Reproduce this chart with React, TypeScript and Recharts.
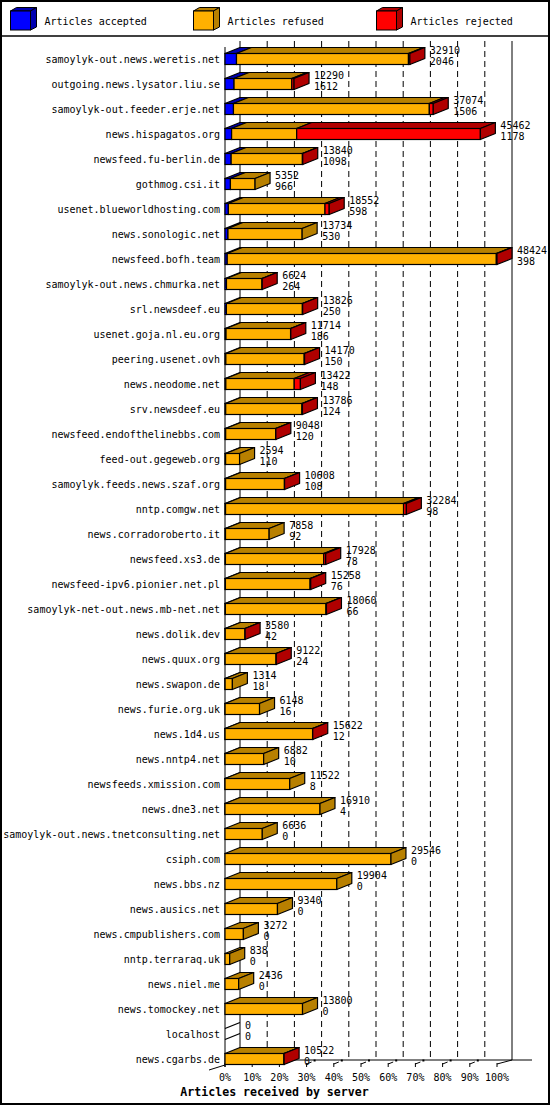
import React from 'react';
import { BarChart, Bar, XAxis, YAxis, CartesianGrid } from 'recharts';

const servers = [
  'samoylyk-out.news.weretis.net', 'outgoing.news.lysator.liu.se', 'samoylyk-out.feeder.erje.net',
  'news.hispagatos.org', 'newsfeed.fu-berlin.de', 'gothmog.csi.it', 'usenet.blueworldhosting.com',
  'news.sonologic.net', 'newsfeed.bofh.team', 'samoylyk-out.news.chmurka.net', 'srl.newsdeef.eu',
  'usenet.goja.nl.eu.org', 'peering.usenet.ovh', 'news.neodome.net', 'srv.newsdeef.eu',
  'newsfeed.endofthelinebbs.com', 'feed-out.gegeweb.org', 'samoylyk.feeds.news.szaf.org',
  'nntp.comgw.net', 'news.corradoroberto.it', 'newsfeed.xs3.de', 'newsfeed-ipv6.pionier.net.pl',
  'samoylyk-net-out.news.mb-net.net', 'news.dolik.dev', 'news.quux.org', 'news.swapon.de',
  'news.furie.org.uk', 'news.1d4.us', 'news.nntp4.net', 'newsfeeds.xmission.com', 'news.dne3.net',
  'samoylyk-out.news.tnetconsulting.net', 'csiph.com', 'news.bbs.nz', 'news.ausics.net',
  'news.cmpublishers.com', 'nntp.terraraq.uk', 'news.niel.me', 'news.tomockey.net', 'localhost',
  'news.cgarbs.de',
];

const totals = [
  32910, 12290, 37074, 45462, 13840, 5352, 18552, 13734, 48424, 6624, 13826, 11714, 14170, 13422,
  13786, 9048, 2594, 10608, 32284, 7858, 17928, 15258, 18060, 3580, 9122, 1314, 6148, 15622, 6882,
  11522, 16910, 6636, 29546, 19904, 9340, 3272, 838, 2436, 13800, 0, 10522,
];

const accepted = [
  2046, 1612, 1506, 1178, 1098, 966, 598, 530, 398, 264, 250, 186, 150, 148, 124, 120, 110, 108,
  98, 92, 78, 76, 66, 42, 24, 18, 16, 12, 10, 8, 4, 0, 0, 0, 0, 0, 0, 0, 0, 0, 0,
];

const refused = [
  30614, 10278, 34868, 11584, 12682, 4386, 17204, 13204, 47906, 6330, 13526, 11488, 13950, 12174,
  13572, 8908, 2484, 10470, 31686, 7766, 17500, 15072, 17914, 3528, 9078, 1296, 6132, 15580, 6872,
  11514, 16906, 6636, 29546, 19904, 9340, 3272, 838, 2436, 13800, 0, 10502,
];

const rejected = [
  250, 400, 700, 32700, 60, 0, 750, 0, 120, 30, 50, 40, 70, 1100, 90, 20, 0, 30, 500, 0, 350, 110,
  80, 10, 20, 0, 0, 30, 0, 0, 0, 0, 0, 0, 0, 0, 0, 0, 0, 0, 20,
];

const seriesNames = ['Articles accepted', 'Articles refused', 'Articles rejected'];
const pctTicks = [0, 10, 20, 30, 40, 50, 60, 70, 80, 90, 100];
const axisTitle = 'Articles received by server';

const maxTotal = Math.max(...totals);
const tickValues = pctTicks.map((p) => (p / 100) * maxTotal);

const data = servers.map((name, i) => ({
  name,
  total: totals[i],
  accepted: accepted[i],
  refused: refused[i],
  rejected: rejected[i],
}));

const DX = 15;
const DY = 6;
const FONT = '"DejaVu Sans Mono", "Liberation Mono", monospace';
const SW = 1.2;

const KEYS = ['accepted', 'refused', 'rejected'];
const COLORS: Record<string, { front: string; dark: string }> = {
  accepted: { front: '#0000ff', dark: '#0000b0' },
  refused: { front: '#ffb000', dark: '#b88000' },
  rejected: { front: '#ff0000', dark: '#b00000' },
};

function lastKey(p: any): string | null {
  for (let k = KEYS.length - 1; k >= 0; k--) if (p[KEYS[k]] > 0) return KEYS[k];
  return null;
}

function makeShape(key: string) {
  return (props: any) => {
    const { x, y, width, height, payload } = props;
    if (x == null || y == null || isNaN(x) || isNaN(y)) return <g />;
    const w = Math.max(0, width || 0);
    const h = height || 11;
    const c = COLORS[key];
    const els: React.ReactNode[] = [];
    if (payload.total === 0 && key === 'accepted') {
      els.push(
        <line key="d1" x1={x} y1={y} x2={x + DX} y2={y - DY} stroke="#000" strokeWidth={SW} />,
        <line key="d2" x1={x} y1={y + h} x2={x + DX} y2={y + h - DY} stroke="#000" strokeWidth={SW} />,
      );
    }
    if (w > 0) {
      els.push(
        <polygon
          key="top"
          points={`${x},${y} ${x + DX},${y - DY} ${x + w + DX},${y - DY} ${x + w},${y}`}
          fill={c.dark}
          stroke="#000"
          strokeWidth={SW}
          strokeLinejoin="round"
        />,
        <rect key="front" x={x} y={y} width={w} height={h} fill={c.front} stroke="#000" strokeWidth={SW} />,
      );
    }
    if (lastKey(payload) === key) {
      els.push(
        <polygon
          key="side"
          points={`${x + w},${y} ${x + w + DX},${y - DY} ${x + w + DX},${y + h - DY} ${x + w},${y + h}`}
          fill={c.dark}
          stroke="#000"
          strokeWidth={SW}
          strokeLinejoin="round"
        />,
      );
    }
    if (key === 'rejected') {
      const lx = x + w + DX + 5;
      els.push(
        <text key="l1" x={lx} y={y - 3.5} fontFamily={FONT} fontSize={10} dominantBaseline="central" fill="#000">
          {payload.total}
        </text>,
        <text key="l2" x={lx} y={y + 8} fontFamily={FONT} fontSize={10} dominantBaseline="central" fill="#000">
          {payload.accepted}
        </text>,
      );
    }
    return <g>{els}</g>;
  };
}

const YTick = (props: any) => {
  const { y, payload } = props;
  return (
    <text x={220} y={y} textAnchor="end" dominantBaseline="central" fontFamily={FONT} fontSize={10} fill="#000">
      {payload.value}
    </text>
  );
};

const XTick = (props: any) => {
  const { x, payload, index } = props;
  return (
    <text x={x} y={1077} textAnchor="middle" dominantBaseline="central" fontFamily={FONT} fontSize={10} fill="#000">
      {`${pctTicks[index] ?? Math.round((payload.value / maxTotal) * 100)}%`}
    </text>
  );
};

const gridLine = (p: any) => {
  const { x1, y1, y2, index } = p;
  const bx = x1 + DX;
  const top = y1 - 5.5;
  const bottom = y2 - 11.5;
  const base = bottom + 6;
  const isFirst = index === 0;
  const isLast = index === pctTicks.length - 1;
  const solid = isFirst || isLast;
  return (
    <g key={`g-${index}`}>
      <line x1={bx} y1={top} x2={bx} y2={bottom} stroke="#000" strokeWidth={1} strokeDasharray={solid ? undefined : '6 4'} />
      {isFirst && (
        <>
          <line x1={x1} y1={top + 6} x2={x1} y2={base + 1} stroke="#000" strokeWidth={1} />
          <line x1={x1} y1={bottom} x2={x1 + 307} y2={bottom} stroke="#000" strokeWidth={1} />
          <line x1={x1 - 16} y1={base + 4} x2={x1} y2={base - 1} stroke="#000" strokeWidth={1} />
        </>
      )}
      <line x1={x1} y1={base - 3} x2={x1} y2={base + 1} stroke="#000" strokeWidth={1} />
      {!isFirst && !isLast && (
        <>
          <line x1={x1} y1={base - 2} x2={x1 + 5} y2={base - 4} stroke="#000" strokeWidth={1} />
          <rect x={x1 + 7} y={base - 6.5} width={2} height={2} fill="#000" />
        </>
      )}
      {isLast && <line x1={x1} y1={base - 2} x2={x1 + DX} y2={base - DY} stroke="#000" strokeWidth={1} />}
    </g>
  );
};

const legendX = [10.5, 193.5, 376.5];

export default function App() {
  return (
    <div style={{ position: 'relative', width: 550, height: 1105, background: '#fff' }}>
      <style>{'body{margin:0;background:#fff}'}</style>
      <BarChart
        width={550}
        height={1105}
        data={data}
        layout="vertical"
        margin={{ top: 46.5, right: 53, bottom: 3.5, left: 0 }}
        barSize={11}
        barCategoryGap={0}
      >
        <CartesianGrid horizontal={false} vertical={gridLine} />
        <XAxis
          type="number"
          domain={[0, maxTotal]}
          ticks={tickValues}
          interval={0}
          axisLine={false}
          tickLine={false}
          height={30}
          tick={<XTick />}
        />
        <YAxis
          type="category"
          dataKey="name"
          width={225}
          interval={0}
          axisLine={false}
          tickLine={false}
          tick={<YTick />}
        />
        {KEYS.map((k, i) => (
          <Bar
            key={k}
            dataKey={k}
            name={seriesNames[i]}
            stackId="a"
            fill={COLORS[k].front}
            isAnimationActive={false}
            shape={makeShape(k)}
          />
        ))}
      </BarChart>
      <svg
        width={550}
        height={1105}
        style={{ position: 'absolute', left: 0, top: 0, pointerEvents: 'none' }}
      >
        <rect x={1} y={1} width={548} height={1103} fill="none" stroke="#000" strokeWidth={2} />
        <line x1={0} y1={36} x2={550} y2={36} stroke="#000" strokeWidth={1.5} />
        {KEYS.map((k, i) => {
          const x = legendX[i];
          const c = COLORS[k];
          return (
            <g key={k}>
              <polygon points={`${x},11 ${x + 6},7.5 ${x + 26},7.5 ${x + 20},11`} fill={c.dark} stroke="#000" strokeWidth={1} />
              <polygon points={`${x + 20},11 ${x + 26},7.5 ${x + 26},27 ${x + 20},30`} fill={c.dark} stroke="#000" strokeWidth={1} />
              <rect x={x} y={11} width={20} height={19} fill={c.front} stroke="#000" strokeWidth={1} />
              <text x={x + 34} y={21} dominantBaseline="central" fontFamily={FONT} fontSize={10} fill="#000">
                {seriesNames[i]}
              </text>
            </g>
          );
        })}
        <text
          x={274.5}
          y={1092}
          textAnchor="middle"
          dominantBaseline="central"
          fontFamily={FONT}
          fontSize={11.6}
          fontWeight="bold"
          fill="#000"
        >
          {axisTitle}
        </text>
      </svg>
    </div>
  );
}
